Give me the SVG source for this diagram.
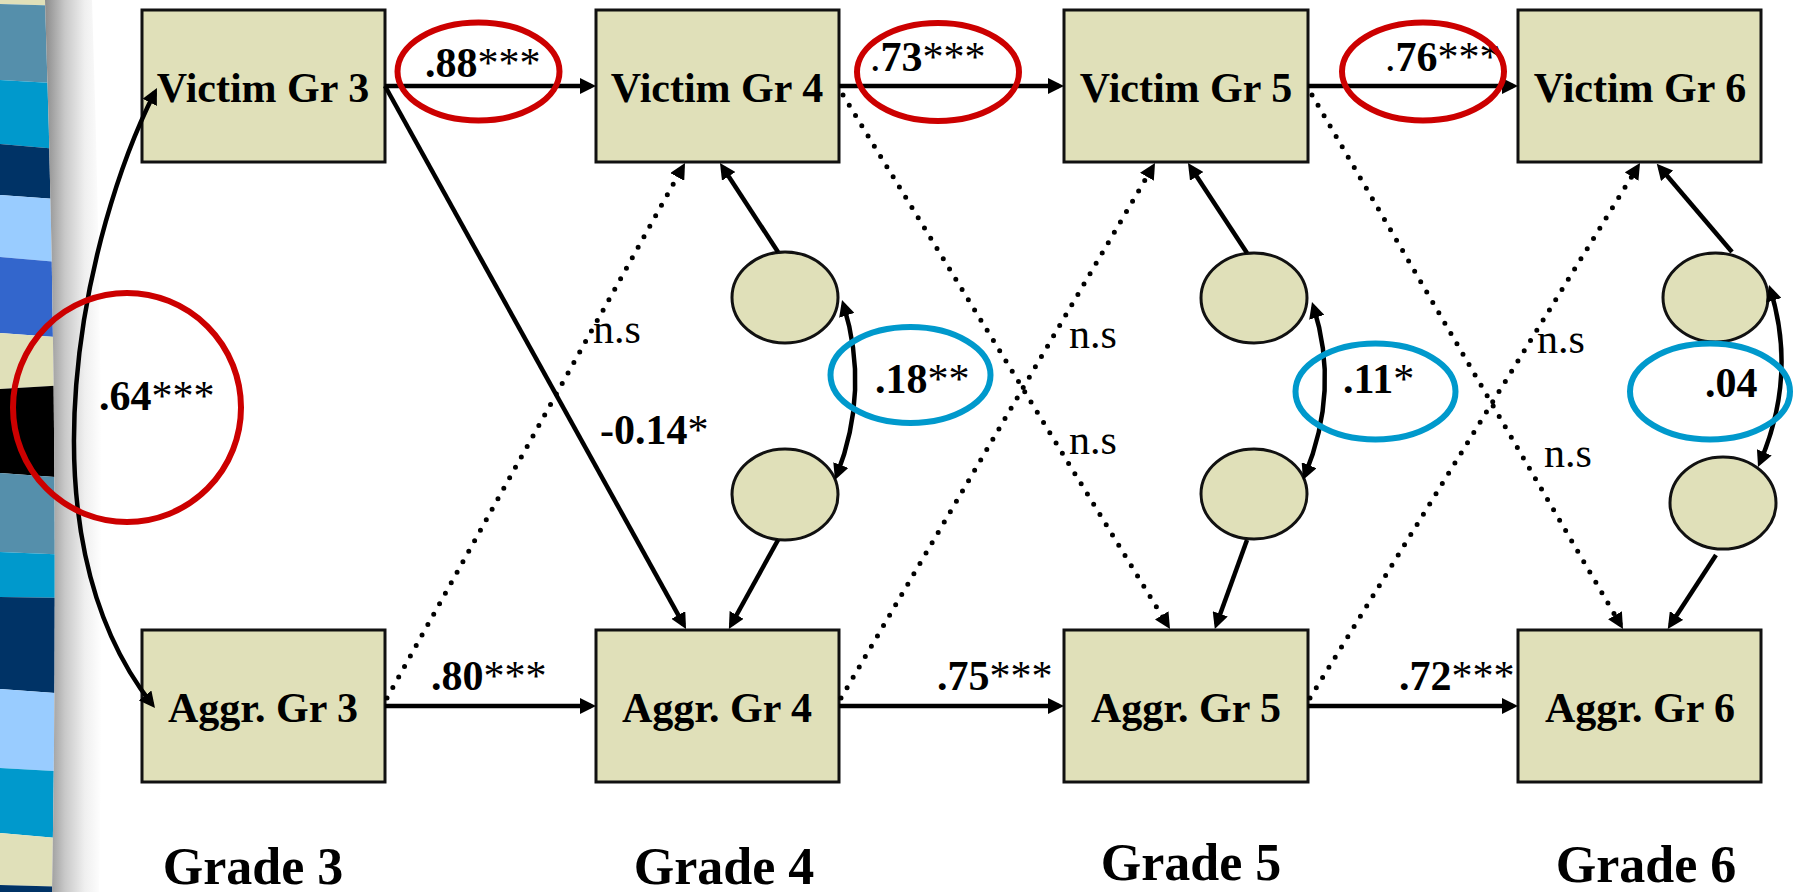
<svg xmlns="http://www.w3.org/2000/svg" width="1798" height="892" viewBox="0 0 1798 892">
  <defs>
    <style>
      .box { fill: #e0e0b9; stroke: #111; stroke-width: 3; }
      .res { fill: #e0e0b9; stroke: #111; stroke-width: 3; }
      .lbl { font-family: "Liberation Serif", "Times New Roman", serif; font-weight: bold; font-size: 42px; fill: #000; }
      .mid { text-anchor: middle; }
      .ast { font-weight: normal; }
      .ns { font-family: "Liberation Serif", "Times New Roman", serif; font-size: 42px; fill: #000; }
      .grade { font-family: "Liberation Serif", "Times New Roman", serif; font-weight: bold; font-size: 52px; fill: #000; text-anchor: middle; }
      .solid { fill: none; stroke: #000; stroke-width: 4.5; marker-end: url(#ah); }
      .curve { fill: none; stroke: #000; stroke-width: 4.5; marker-start: url(#ah); marker-end: url(#ah); }
      .dot { fill: none; stroke: #000; stroke-width: 5; stroke-linecap: round; stroke-dasharray: 0 12; marker-end: url(#ah); }
      .red { fill: none; stroke: #cc0000; stroke-width: 6; }
      .blue { fill: none; stroke: #0099cc; stroke-width: 6; }
    </style>
    <marker id="ah" viewBox="0 0 16 16" refX="11" refY="8" markerWidth="16" markerHeight="16" markerUnits="userSpaceOnUse" orient="auto-start-reverse">
      <path d="M0,0 L16,8 L0,16 Z" fill="#000"/>
    </marker>
    <clipPath id="stripClip">
      <path d="M0,0 L45,0 Q60,450 52,892 L0,892 Z"/>
    </clipPath>
    <linearGradient id="edgeShade" x1="0" y1="0" x2="1" y2="0">
      <stop offset="0" stop-color="#8c8c8c"/>
      <stop offset="0.35" stop-color="#c8c8c8"/>
      <stop offset="0.7" stop-color="#efefef"/>
      <stop offset="1" stop-color="#ffffff"/>
    </linearGradient>
  </defs>

  <rect width="1798" height="892" fill="#ffffff"/>

  <!-- striped slide border on the left -->
  <g id="border">
    <g clip-path="url(#stripClip)">
      <polygon points="0,0 70,0 70,6 0,4" fill="#e0e0b9"/>
      <polygon points="0,4 70,6 70,84 0,80" fill="#558fab"/>
      <polygon points="0,80 70,84 70,150 0,144" fill="#0099cc"/>
      <polygon points="0,144 70,150 70,200 0,195" fill="#003366"/>
      <polygon points="0,195 70,200 70,263 0,257" fill="#99ccff"/>
      <polygon points="0,257 70,263 70,338 0,333" fill="#3366cc"/>
      <polygon points="0,333 70,338 70,385 0,389" fill="#e0e0b9"/>
      <polygon points="0,389 70,385 70,478 0,473" fill="#000000"/>
      <polygon points="0,473 70,478 70,555 0,552" fill="#558fab"/>
      <polygon points="0,552 70,555 70,598 0,597" fill="#0099cc"/>
      <polygon points="0,597 70,598 70,694 0,689" fill="#003366"/>
      <polygon points="0,689 70,694 70,772 0,768" fill="#99ccff"/>
      <polygon points="0,768 70,772 70,839 0,833" fill="#0099cc"/>
      <polygon points="0,833 70,839 70,887 0,885" fill="#e0e0b9"/>
      <polygon points="0,885 70,887 70,892 0,892" fill="#003366"/>
    </g>
    <path d="M45,0 L92,0 Q107,450 99,892 L52,892 Q60,450 45,0 Z" fill="url(#edgeShade)"/>
  </g>

  <!-- observed variables -->
  <g id="victim3"><rect class="box" x="142" y="10" width="243" height="152"/><text class="lbl mid" x="263" y="102">Victim Gr 3</text></g>
  <g id="victim4"><rect class="box" x="596" y="10" width="243" height="152"/><text class="lbl mid" x="717" y="102">Victim Gr 4</text></g>
  <g id="victim5"><rect class="box" x="1064" y="10" width="244" height="152"/><text class="lbl mid" x="1186" y="102">Victim Gr 5</text></g>
  <g id="victim6"><rect class="box" x="1518" y="10" width="243" height="152"/><text class="lbl mid" x="1640" y="102">Victim Gr 6</text></g>
  <g id="aggr3"><rect class="box" x="142" y="630" width="243" height="152"/><text class="lbl mid" x="263" y="722">Aggr. Gr 3</text></g>
  <g id="aggr4"><rect class="box" x="596" y="630" width="243" height="152"/><text class="lbl mid" x="717" y="722">Aggr. Gr 4</text></g>
  <g id="aggr5"><rect class="box" x="1064" y="630" width="244" height="152"/><text class="lbl mid" x="1186" y="722">Aggr. Gr 5</text></g>
  <g id="aggr6"><rect class="box" x="1518" y="630" width="243" height="152"/><text class="lbl mid" x="1640" y="722">Aggr. Gr 6</text></g>

  <!-- residual terms -->
  <g id="res4v"><ellipse class="res" cx="785" cy="297.5" rx="53" ry="45.5"/></g>
  <g id="res4a"><ellipse class="res" cx="785" cy="494.5" rx="53" ry="45.5"/></g>
  <g id="res5v"><ellipse class="res" cx="1254" cy="298" rx="53" ry="45"/></g>
  <g id="res5a"><ellipse class="res" cx="1254" cy="494" rx="53" ry="45"/></g>
  <g id="res6v"><ellipse class="res" cx="1715.5" cy="297.5" rx="52.5" ry="44.5"/></g>
  <g id="res6a"><ellipse class="res" cx="1723" cy="503" rx="53" ry="46"/></g>

  <!-- connectors -->
  <g id="connectors">
    <!-- stability paths -->
    <path class="solid" d="M385,86 L591,86"/>
    <path class="solid" d="M839,86 L1059,86"/>
    <path class="solid" d="M1308,86 L1513,86"/>
    <path class="solid" d="M385,706 L591,706"/>
    <path class="solid" d="M839,706 L1059,706"/>
    <path class="solid" d="M1308,706 L1513,706"/>
    <!-- cross-lagged paths -->
    <path class="solid" d="M385,86 L683.6,624.6"/>
    <path class="dot" d="M843,95 L1167.4,624.7"/>
    <path class="dot" d="M1312,95 L1620.5,624.7"/>
    <path class="dot" d="M387,698 L682.6,167.4"/>
    <path class="dot" d="M841,698 L1152.5,167.3"/>
    <path class="dot" d="M1310,698 L1637.4,167.3"/>
    <!-- residual paths -->
    <path class="solid" d="M778,252 L722.7,167.2"/>
    <path class="solid" d="M1247,253 L1190.7,167.2"/>
    <path class="solid" d="M1732,252 L1660,167.5"/>
    <path class="solid" d="M778,540 L731.3,624.5"/>
    <path class="solid" d="M1247,540 L1216.5,624.2"/>
    <path class="solid" d="M1716,555 L1670.5,624.7"/>
    <!-- correlations -->
    <path class="curve" d="M154.7,92.5 C85,230 16,531 151.9,704.1"/>
    <path class="curve" d="M843.5,304.8 Q870,390 836.8,475.3"/>
    <path class="curve" d="M1313.5,306.8 Q1340,390 1304.9,475.4"/>
    <path class="curve" d="M1770.5,289.8 Q1797,376 1760,462.4"/>
  </g>

  <!-- coefficients -->
  <g id="coefficients">
    <text class="lbl" x="425" y="77">.88<tspan class="ast">***</tspan></text>
    <text class="lbl" x="870" y="71"><tspan class="ast">.</tspan>73<tspan class="ast">***</tspan></text>
    <text class="lbl" x="1385" y="71"><tspan class="ast">.</tspan>76<tspan class="ast">***</tspan></text>
    <text class="lbl" x="431" y="690">.80<tspan class="ast">***</tspan></text>
    <text class="lbl" x="937" y="690">.75<tspan class="ast">***</tspan></text>
    <text class="lbl" x="1399" y="690">.72<tspan class="ast">***</tspan></text>
    <text class="lbl" x="99" y="410">.64<tspan class="ast">***</tspan></text>
    <text class="lbl" x="600" y="444">-0.14<tspan class="ast">*</tspan></text>
    <text class="lbl" x="875" y="393">.18<tspan class="ast">**</tspan></text>
    <text class="lbl" x="1343" y="393">.11<tspan class="ast">*</tspan></text>
    <text class="lbl" x="1705" y="397">.04</text>
    <text class="ns" x="593" y="343">n.s</text>
    <text class="ns" x="1069" y="348">n.s</text>
    <text class="ns" x="1069" y="454">n.s</text>
    <text class="ns" x="1537" y="353">n.s</text>
    <text class="ns" x="1544" y="467">n.s</text>
  </g>

  <!-- highlight rings -->
  <g id="highlights">
    <ellipse class="red" cx="127" cy="407.5" rx="114" ry="114.5"/>
    <ellipse class="red" cx="478.5" cy="71.5" rx="81" ry="49"/>
    <ellipse class="red" cx="938" cy="72" rx="81" ry="49"/>
    <ellipse class="red" cx="1423" cy="71.5" rx="81" ry="49"/>
    <ellipse class="blue" cx="910.5" cy="375" rx="80" ry="48"/>
    <ellipse class="blue" cx="1375.5" cy="391.5" rx="80" ry="48"/>
    <ellipse class="blue" cx="1710" cy="391.5" rx="80" ry="48"/>
  </g>

  <!-- wave labels -->
  <g id="grades">
    <text class="grade" x="253" y="884">Grade 3</text>
    <text class="grade" x="724" y="884">Grade 4</text>
    <text class="grade" x="1191" y="880">Grade 5</text>
    <text class="grade" x="1646" y="882">Grade 6</text>
  </g>
</svg>
